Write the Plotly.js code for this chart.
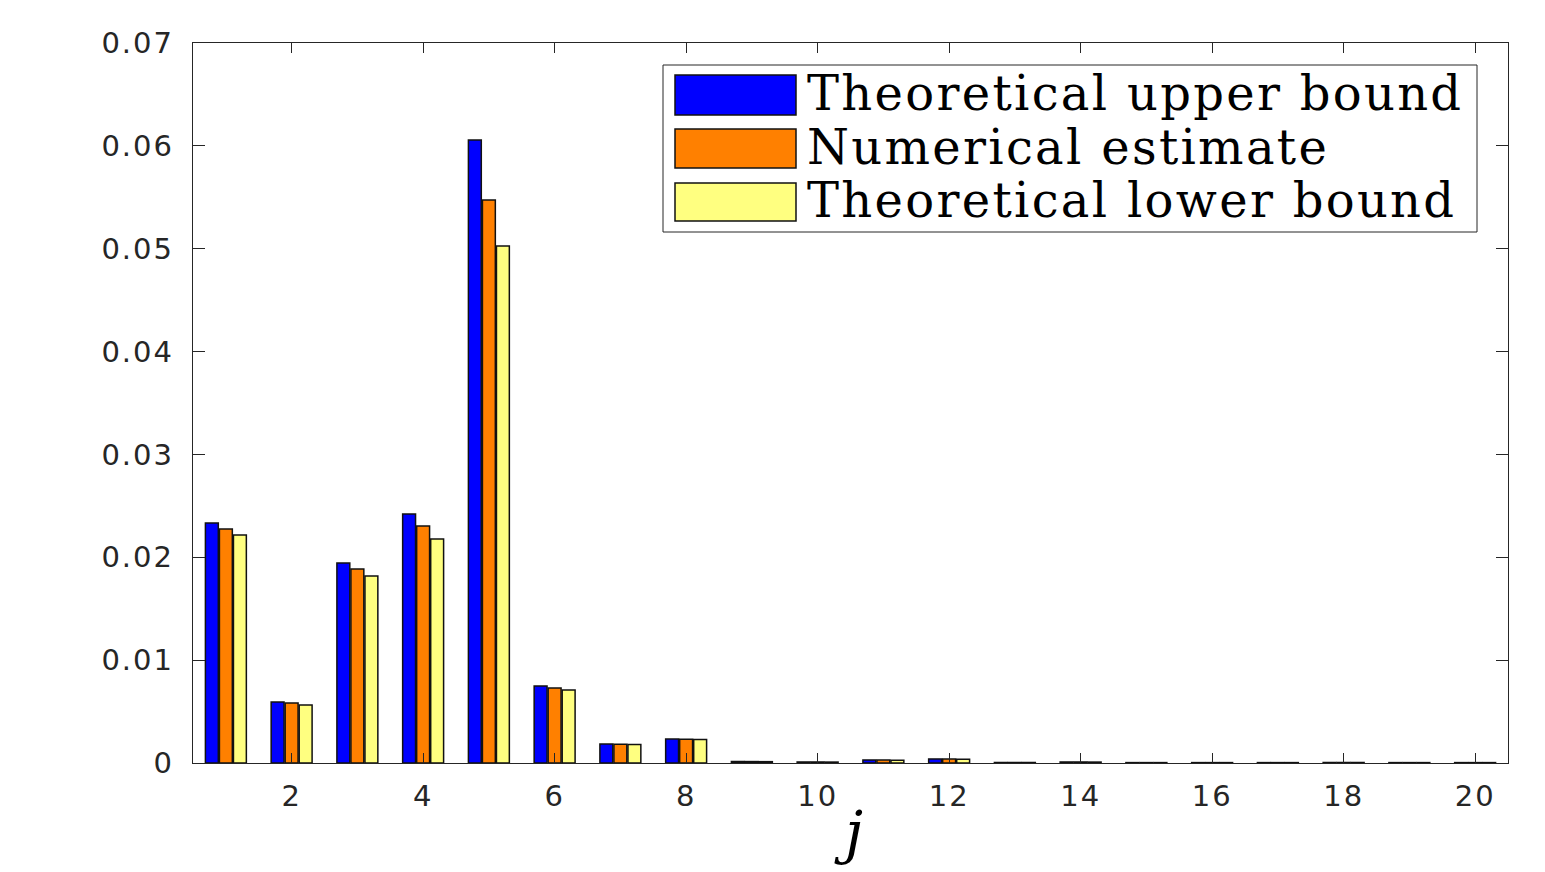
<!DOCTYPE html>
<html>
<head>
<meta charset="utf-8">
<script src="https://cdn.plot.ly/plotly-3.0.1.min.js"></script>
<style>html,body{margin:0;padding:0;background:#fff;}#chart{width:1545px;height:872px;}</style>
</head>
<body>
<div id="chart"></div>
<script>
const jValues = [1,2,3,4,5,6,7,8,9,10,11,12,13,14,15,16,17,18,19,20];
const upperBound = [0.02333,0.00593,0.01944,0.02421,0.06057,0.00749,0.00185,0.00233,0.00015,0.00010,0.00030,0.00040,0.00005,0.00010,0.00004,0.00004,0.00004,0.00005,0.00004,0.00004];
const numericalEstimate = [0.02275,0.00583,0.01886,0.02304,0.05473,0.00729,0.00182,0.00231,0.00014,0.00010,0.00028,0.00038,0.00005,0.00010,0.00004,0.00004,0.00004,0.00005,0.00004,0.00004];
const lowerBound = [0.02217,0.00564,0.01818,0.02178,0.05026,0.00710,0.00180,0.00229,0.00013,0.00009,0.00027,0.00036,0.00005,0.00009,0.00004,0.00004,0.00004,0.00005,0.00004,0.00004];
const seriesNames = ["Theoretical upper bound","Numerical estimate","Theoretical lower bound"];
const seriesColors = ["#0000ff","#ff8000","#ffff80"];
const xTickVals = [2,4,6,8,10,12,14,16,18,20];
const xTickText = ["2","4","6","8","10","12","14","16","18","20"];
const yTickVals = [0,0.01,0.02,0.03,0.04,0.05,0.06,0.07];
const yTickText = ["0","0.01","0.02","0.03","0.04","0.05","0.06","0.07"];

const spaced = (s, ls) => '<span style="letter-spacing:' + ls + 'px">' + s + '</span>';

const allSeries = [upperBound, numericalEstimate, lowerBound];
const traces = allSeries.map((vals, i) => ({
  type: 'bar',
  x: jValues,
  y: vals,
  name: seriesNames[i],
  marker: {color: seriesColors[i], line: {color: '#111111', width: 1.5}},
  showlegend: false
}));

// plot area in px: x 193..1508, y 43..763
const L = 193, R = 1508, T = 43, B = 763;
const px = v => (v - L) / (R - L);
const py = v => (B - v) / (B - T);

const shapes = [
  {type:'rect', xref:'paper', yref:'paper', x0:px(663), x1:px(1477), y0:py(232), y1:py(65),
   line:{color:'#262626', width:1}, fillcolor:'#ffffff', layer:'above'}
];
const swY = [[75,115],[129,168],[183,221]];
const txtY = [93,147,200];
const annotations = [];
for (let i = 0; i < 3; i++) {
  shapes.push({type:'rect', xref:'paper', yref:'paper', x0:px(675), x1:px(796),
    y0:py(swY[i][1]), y1:py(swY[i][0]), line:{color:'#111111', width:1.5},
    fillcolor:seriesColors[i], layer:'above'});
  annotations.push({xref:'paper', yref:'paper', x:px(805), y:py(txtY[i]), xanchor:'left', yanchor:'middle',
    text:spaced(seriesNames[i], 2.3), showarrow:false, font:{family:'DejaVu Serif', size:48, color:'#000000'}});
}
annotations.push({xref:'paper', yref:'paper', x:px(848), y:py(832), xanchor:'center', yanchor:'middle',
  text:'<i>j</i>', showarrow:false, font:{family:'DejaVu Serif', size:58, color:'#000000'}});

const tickFont = {family: 'DejaVu Sans', size: 29, color: '#262626'};
const layout = {
  width: 1545, height: 872,
  margin: {l: L, r: 1545 - R, t: T, b: 872 - B, pad: 0},
  paper_bgcolor: '#ffffff', plot_bgcolor: '#ffffff',
  barmode: 'group', bargap: 0.36, bargroupgap: 0.08,
  showlegend: false,
  xaxis: {
    range: [0.5, 20.5], tickvals: xTickVals, ticktext: xTickText.map(t => spaced(t, 2)),
    ticks: 'inside', ticklen: 10, tickwidth: 1.2,
    tickcolor: '#262626', showline: true, linecolor: '#262626', linewidth: 1.2, mirror: 'ticks',
    showgrid: false, zeroline: false, ticklabelstandoff: 7, tickfont: tickFont
  },
  yaxis: {
    range: [0, 0.07], tickvals: yTickVals, ticktext: yTickText.map(t => spaced(t, 2)),
    ticks: 'inside', ticklen: 12, tickwidth: 1.2,
    tickcolor: '#262626', showline: true, linecolor: '#262626', linewidth: 1.2, mirror: 'ticks',
    showgrid: false, zeroline: false, ticklabelstandoff: 12, tickfont: tickFont
  },
  shapes: shapes,
  annotations: annotations
};

Plotly.newPlot('chart', traces, layout, {displayModeBar: false, staticPlot: true});
</script>
</body>
</html>
